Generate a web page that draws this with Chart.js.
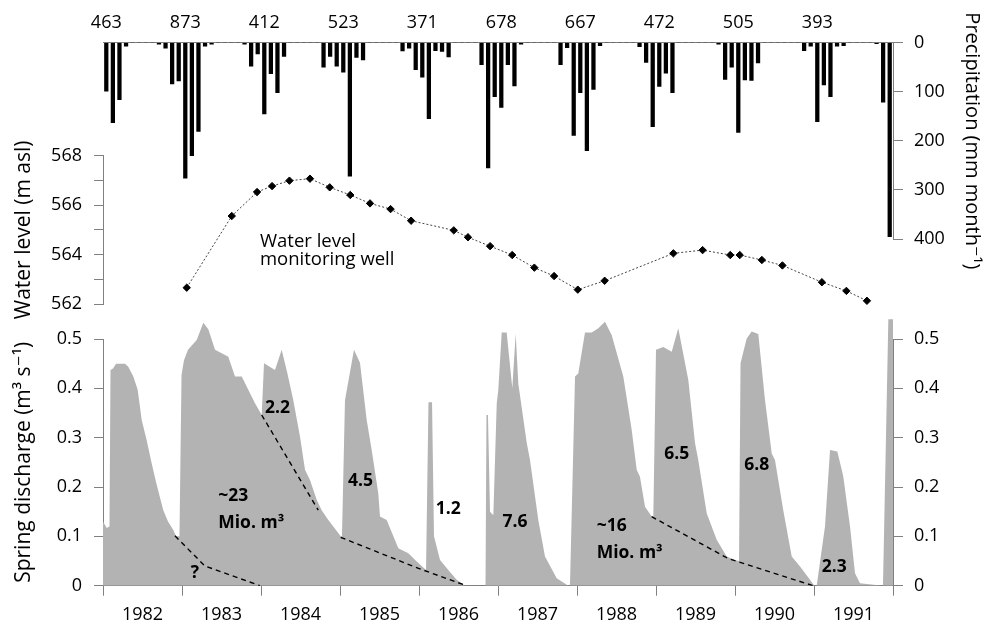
<!DOCTYPE html>
<html><head><meta charset="utf-8">
<script src="https://cdn.jsdelivr.net/npm/chart.js@4"></script>
<style>
html,body{margin:0;padding:0;background:#fff;}
#wrap{position:relative;width:984px;height:620px;overflow:hidden;}
canvas{position:absolute;left:0;top:0;}
</style></head><body>
<div id="wrap">
<canvas id="cPrec" width="984" height="620"></canvas>
<canvas id="cWell" width="984" height="620"></canvas>
<canvas id="cQ" width="984" height="620"></canvas>
</div>
<script>
// ---------- DATA ----------
const years = [1982, 1983, 1984, 1985, 1986, 1987, 1988, 1989, 1990, 1991];
const annualTotals = [463, 873, 412, 523, 371, 678, 667, 472, 505, 393];

// monthly precipitation (mm), Jan..Dec
const precip1982 = [99, 163, 116, 7, 0, 0, 0, 0, 3, 11, 84, 78];
const precip1983 = [276, 230, 181, 7, 3, 0, 0, 0, 0, 3, 48, 23];
const precip1984 = [145, 63, 102, 28, 0, 0, 0, 0, 0, 50, 28, 48];
const precip1985 = [60, 272, 30, 35, 0, 0, 0, 0, 0, 17, 11, 55];
const precip1986 = [70, 155, 16, 18, 29, 0, 0, 0, 0, 45, 255, 110];
const precip1987 = [132, 45, 88, 3, 0, 0, 0, 0, 0, 45, 10, 189];
const precip1988 = [102, 220, 95, 6, 0, 0, 0, 0, 0, 8, 40, 171];
const precip1989 = [89, 62, 102, 0, 0, 0, 0, 0, 0, 3, 75, 50];
const precip1990 = [183, 76, 77, 41, 0, 0, 0, 0, 0, 0, 16, 7];
const precip1991 = [161, 86, 110, 7, 6, 0, 0, 0, 0, 2, 121, 395];

// water level in monitoring well (m asl)
const wellTime = [1983.06, 1983.63, 1983.95, 1984.14, 1984.36, 1984.62, 1984.87, 1985.13, 1985.38, 1985.64,
  1985.90, 1986.44, 1986.62, 1986.90, 1987.18, 1987.46, 1987.71, 1988.01, 1988.35, 1989.22,
  1989.59, 1989.94, 1990.06, 1990.34, 1990.60, 1991.10, 1991.41, 1991.67];
const wellLevel = [562.66, 565.56, 566.53, 566.77, 566.99, 567.07, 566.72, 566.41, 566.07, 565.84,
  565.37, 564.98, 564.70, 564.34, 563.98, 563.47, 563.13, 562.58, 562.94, 564.05,
  564.18, 563.98, 563.98, 563.78, 563.56, 562.88, 562.53, 562.13];

// spring discharge (m3/s)
const qTime = [1982.000, 1982.047, 1982.082, 1982.095, 1982.127, 1982.165, 1982.228, 1982.278, 1982.320, 1982.384,
  1982.439, 1982.490, 1982.553, 1982.616, 1982.671, 1982.763, 1982.823, 1982.890, 1982.924, 1982.968,
  1982.994, 1983.025, 1983.076, 1983.186, 1983.270, 1983.333, 1983.418, 1983.503, 1983.586, 1983.671,
  1983.756, 1983.839, 1983.924, 1984.009, 1984.038, 1984.177, 1984.262, 1984.333, 1984.409, 1984.494,
  1984.557, 1984.620, 1984.705, 1984.768, 1984.852, 1984.915, 1985.009, 1985.025, 1985.063, 1985.177,
  1985.253, 1985.338, 1985.401, 1985.485, 1985.506, 1985.591, 1985.738, 1985.865, 1985.971, 1986.089,
  1986.120, 1986.165, 1986.190, 1986.266, 1986.392, 1986.477, 1986.582, 1986.842, 1986.854, 1986.873,
  1986.899, 1986.941, 1986.984, 1987.004, 1987.047, 1987.110, 1987.181, 1987.224, 1987.257, 1987.363,
  1987.405, 1987.510, 1987.595, 1987.743, 1987.890, 1987.911, 1987.975, 1988.016, 1988.101, 1988.186,
  1988.270, 1988.354, 1988.439, 1988.586, 1988.692, 1988.756, 1988.797, 1988.861, 1988.946, 1988.966,
  1989.000, 1989.092, 1989.199, 1989.282, 1989.409, 1989.494, 1989.535, 1989.642, 1989.768, 1989.895,
  1990.000, 1990.051, 1990.070, 1990.148, 1990.211, 1990.295, 1990.380, 1990.465, 1990.506, 1990.611,
  1990.718, 1990.823, 1990.949, 1991.004, 1991.034, 1991.139, 1991.203, 1991.295, 1991.351, 1991.371,
  1991.456, 1991.519, 1991.582, 1991.873, 1991.941, 1992.000];
const qValue = [0.130, 0.117, 0.120, 0.437, 0.440, 0.450, 0.450, 0.450, 0.444, 0.424,
  0.397, 0.336, 0.295, 0.248, 0.210, 0.153, 0.130, 0.113, 0.100, 0.100,
  0.427, 0.457, 0.478, 0.498, 0.533, 0.520, 0.478, 0.471, 0.464, 0.424,
  0.424, 0.397, 0.370, 0.346, 0.451, 0.437, 0.478, 0.431, 0.376, 0.302,
  0.235, 0.214, 0.174, 0.153, 0.133, 0.120, 0.100, 0.100, 0.376, 0.478,
  0.452, 0.336, 0.275, 0.187, 0.140, 0.133, 0.076, 0.066, 0.049, 0.032,
  0.372, 0.372, 0.100, 0.052, 0.028, 0.012, 0.000, 0.000, 0.346, 0.346,
  0.150, 0.143, 0.370, 0.397, 0.513, 0.513, 0.400, 0.511, 0.410, 0.290,
  0.255, 0.133, 0.059, 0.015, 0.000, 0.000, 0.424, 0.430, 0.513, 0.513,
  0.522, 0.535, 0.508, 0.424, 0.316, 0.235, 0.221, 0.160, 0.140, 0.140,
  0.478, 0.484, 0.474, 0.522, 0.417, 0.289, 0.255, 0.147, 0.093, 0.059,
  0.052, 0.050, 0.451, 0.501, 0.515, 0.510, 0.376, 0.268, 0.255, 0.153,
  0.059, 0.039, 0.012, 0.000, 0.000, 0.120, 0.275, 0.272, 0.235, 0.221,
  0.120, 0.025, 0.005, 0.000, 0.540, 0.540];

// recession (baseflow) lines
const rec1Time = [1982.911, 1983.290, 1983.987];  const rec1Value = [0.101, 0.040, 0.000];
const rec2Time = [1984.009, 1984.725];            const rec2Value = [0.346, 0.153];
const rec3Time = [1985.009, 1985.995, 1986.600];  const rec3Value = [0.098, 0.035, 0.000];
const rec4Time = [1988.945, 1989.915, 1990.990];  const rec4Value = [0.140, 0.055, 0.000];

// volume annotations (text + anchor in data units)
const noteText = ['2.2', '~23', 'Mio. m³', '?', '4.5', '1.2', '7.6', '~16', 'Mio. m³', '6.5', '6.8', '2.3'];
const noteTime = [1984.209, 1983.459, 1983.459, 1983.165, 1985.259, 1986.371, 1987.215, 1988.249, 1988.249, 1989.262, 1990.275, 1991.257];
const noteQ    = [0.360, 0.182, 0.128, 0.026, 0.213, 0.155, 0.130, 0.121, 0.067, 0.267, 0.245, 0.037];
const noteAlign = ['center', 'left', 'left', 'center', 'center', 'center', 'center', 'left', 'left', 'center', 'center', 'center'];

const wellNoteLines = ['Water level', 'monitoring well'];
const wellNoteTime = 1983.987;
const wellNoteLevel = [564.51, 563.78];

// ---------- STYLE ----------
const FONT = "'Open Sans', 'DejaVu Sans', sans-serif";
const AX = '#808080';
const TICK_SIZE = 18;
const TITLE_SIZE = 21;
Chart.defaults.font.family = FONT;
Chart.defaults.color = '#000';

const allPrecip = [precip1982, precip1983, precip1984, precip1985, precip1986,
  precip1987, precip1988, precip1989, precip1990, precip1991].flat();
const precipData = allPrecip.map((v, i) => ({ x: years[0] + (i + 0.5) / 12, y: v }));

const common = {
  responsive: false, devicePixelRatio: 1, animation: false,
  events: [],
  plugins: { legend: { display: false }, tooltip: { enabled: false } }
};

// ---------- PRECIPITATION ----------
new Chart(document.getElementById('cPrec'), {
  type: 'bar',
  data: { datasets: [{ data: precipData, backgroundColor: '#000', barThickness: 3.6, xAxisID: 'xt', yAxisID: 'yp' }] },
  options: Object.assign({}, common, {
    layout: { padding: { left: 103, right: 0, top: 0, bottom: 381 } },
    scales: {
      xt: {
        type: 'linear', position: 'top', min: 1982, max: 1992, offset: false,
        afterFit: s => { s.height = 42.7; },
        afterBuildTicks: s => { s.ticks = years.map(y => ({ value: y + 1 / 24 })); },
        ticks: { autoSkip: false, maxRotation: 0, padding: 9, font: { size: TICK_SIZE },
          callback: (v, i) => String(annualTotals[i]) },
        grid: { display: false, drawTicks: false, offset: false },
        border: { display: true, color: AX, width: 1 }
      },
      yp: {
        type: 'linear', position: 'right', reverse: true, min: 0, max: 400,
        afterFit: s => { s.width = 91; },
        ticks: { stepSize: 50, padding: 11, font: { size: TICK_SIZE },
          callback: v => (v % 100 === 0 ? String(v) : '') },
        grid: { drawOnChartArea: false, tickLength: 10, color: AX },
        border: { color: AX },
        title: { display: true, text: 'Precipitation (mm month⁻¹)', font: { size: 20 }, padding: { top: 0, bottom: 0 } }
      }
    }
  })
});

// ---------- WATER LEVEL ----------
const wellNote = {
  id: 'wellNote',
  afterDraw(chart) {
    const { ctx, scales } = chart;
    ctx.save();
    ctx.font = `18.5px ${FONT}`;
    ctx.fillStyle = '#000';
    ctx.textAlign = 'left';
    ctx.textBaseline = 'middle';
    wellNoteLines.forEach((t, i) => ctx.fillText(t, scales.x.getPixelForValue(wellNoteTime), scales.yw.getPixelForValue(wellNoteLevel[i])));
    ctx.restore();
  }
};
new Chart(document.getElementById('cWell'), {
  type: 'line',
  data: { datasets: [{
    data: wellTime.map((t, i) => ({ x: t, y: wellLevel[i] })),
    borderColor: '#444', borderWidth: 1, borderDash: [2, 2], tension: 0,
    pointStyle: 'rectRot', pointRadius: 3.7, pointBackgroundColor: '#000', pointBorderColor: '#000', pointBorderWidth: 1,
    clip: false, xAxisID: 'x', yAxisID: 'yw'
  }] },
  options: Object.assign({}, common, {
    layout: { padding: { left: 0, right: 91, top: 155.7, bottom: 316 } },
    scales: {
      x: { type: 'linear', min: 1982, max: 1992, display: false },
      yw: {
        type: 'linear', position: 'left', min: 562, max: 568,
        afterFit: s => { s.width = 103; },
        ticks: { stepSize: 1, padding: 12, font: { size: TICK_SIZE }, callback: v => (v % 2 === 0 ? String(v) : '') },
        grid: { drawOnChartArea: false, tickLength: 9, color: AX },
        border: { color: AX },
        title: { display: true, text: 'Water level (m asl)', font: { size: TITLE_SIZE }, padding: { top: 11, bottom: 0 } }
      }
    }
  }),
  plugins: [wellNote]
});

// ---------- SPRING DISCHARGE ----------
const unclipTop = {
  id: 'unclipTop',
  beforeDatasetsDraw(chart) { chart.$savedTop = chart.chartArea.top; chart.chartArea.top = chart.chartArea.top - 40; },
  afterDatasetsDraw(chart) { chart.chartArea.top = chart.$savedTop; }
};
const qNotes = {
  id: 'qNotes',
  afterDraw(chart) {
    const { ctx, scales } = chart;
    ctx.save();
    ctx.font = `bold 17.5px ${FONT}`;
    ctx.fillStyle = '#000';
    ctx.textBaseline = 'middle';
    noteText.forEach((t, i) => {
      ctx.textAlign = noteAlign[i];
      ctx.fillText(t, scales.x.getPixelForValue(noteTime[i]), scales.yq.getPixelForValue(noteQ[i]));
    });
    ctx.restore();
  }
};
const recStyle = { borderColor: '#000', borderWidth: 1.4, borderDash: [5, 4], pointRadius: 0, fill: false, tension: 0, xAxisID: 'x', yAxisID: 'yq' };
const pairs = (ts, vs) => ts.map((t, i) => ({ x: t, y: vs[i] }));
new Chart(document.getElementById('cQ'), {
  type: 'line',
  data: { datasets: [
    Object.assign({}, recStyle, { data: pairs(rec1Time, rec1Value) }),
    Object.assign({}, recStyle, { data: pairs(rec2Time, rec2Value) }),
    Object.assign({}, recStyle, { data: pairs(rec3Time, rec3Value) }),
    Object.assign({}, recStyle, { data: pairs(rec4Time, rec4Value) }),
    { data: pairs(qTime, qValue), fill: 'origin', backgroundColor: '#b3b3b3', borderColor: 'rgba(0,0,0,0)', borderWidth: 0,
      pointRadius: 0, tension: 0, clip: false, xAxisID: 'x', yAxisID: 'yq' }
  ] },
  options: Object.assign({}, common, {
    layout: { padding: { left: 0, right: 0, top: 339, bottom: 0 } },
    scales: {
      x: {
        type: 'linear', position: 'bottom', min: 1982, max: 1992, offset: false,
        afterFit: s => { s.height = 34.3; },
        afterBuildTicks: s => { s.ticks = years.map(y => ({ value: y + 0.5 })); },
        ticks: { autoSkip: false, maxRotation: 0, padding: 8, font: { size: TICK_SIZE }, callback: v => String(Math.floor(v)) },
        grid: { offset: true, drawOnChartArea: false, tickLength: 10, color: AX },
        border: { color: AX }
      },
      yq: {
        type: 'linear', position: 'left', min: 0, max: 0.5,
        afterFit: s => { s.width = 103; },
        ticks: { stepSize: 0.1, padding: 12, font: { size: TICK_SIZE }, callback: v => (Math.abs(v) < 1e-9 ? '0' : v.toFixed(1)) },
        grid: { drawOnChartArea: false, tickLength: 9, color: AX },
        border: { color: AX },
        title: { display: true, text: 'Spring discharge (m³ s⁻¹)', font: { size: TITLE_SIZE }, padding: { top: 11, bottom: 0 } }
      },
      yq2: {
        type: 'linear', position: 'right', min: 0, max: 0.5,
        afterFit: s => { s.width = 91; },
        ticks: { stepSize: 0.1, padding: 11, font: { size: TICK_SIZE }, callback: v => (Math.abs(v) < 1e-9 ? '0' : v.toFixed(1)) },
        grid: { drawOnChartArea: false, tickLength: 10, color: AX },
        border: { color: AX }
      }
    }
  }),
  plugins: [unclipTop, qNotes]
});
</script>
</body></html>
